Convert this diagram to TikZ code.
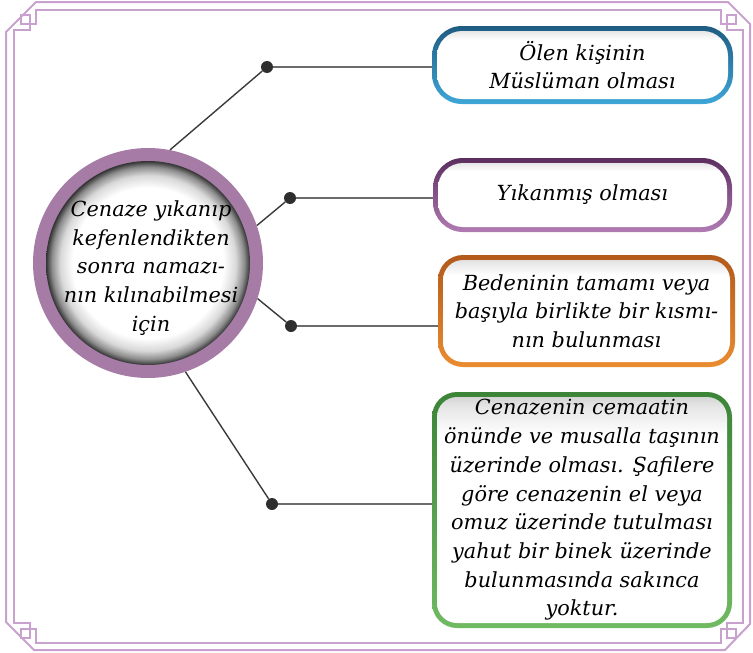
\documentclass[tikz,border=0pt]{standalone}
\usepackage{fontspec}
\setmainfont{DejaVu Serif}
\usetikzlibrary{calc}
\definecolor{framec}{HTML}{C9A1CE}
\definecolor{ringc}{HTML}{A67CA7}
\definecolor{dotc}{HTML}{2E2E2E}
\definecolor{diagc}{HTML}{3A3A3A}
\definecolor{hlinec}{HTML}{6C6C6C}
\definecolor{blueT}{HTML}{1F5C82}
\definecolor{blueB}{HTML}{3EA6D8}
\definecolor{purT}{HTML}{5C2E60}
\definecolor{purB}{HTML}{B07BB3}
\definecolor{orT}{HTML}{B25A1A}
\definecolor{orB}{HTML}{EA8C30}
\definecolor{grT}{HTML}{3C8437}
\definecolor{grB}{HTML}{70BA62}
\pgfdeclareradialshading{discshade}{\pgfpoint{0bp}{0bp}}{color(0bp)=(white); color(18.5bp)=(white); color(21.5bp)=(black!15); color(23.6bp)=(black!45); color(25bp)=(black!80); color(50bp)=(black!80)}
\pgfdeclareverticalshading{innerbox}{100bp}{color(0bp)=(white); color(25bp)=(white); color(66bp)=(white); color(72bp)=(black!10); color(75bp)=(black!20); color(100bp)=(black!20)}
\tikzset{
  txt/.style={font=\fontsize{20.8}{28.7}\selectfont\itshape, align=center},
  cbox/.style n args={3}{rectangle, rounded corners=#3, top color=#1, bottom color=#2, txt, inner sep=0pt,
    path picture={\shade[shading=innerbox, rounded corners=#3-5pt]
      ([shift={(5pt,5pt)}]path picture bounding box.south west) rectangle
      ([shift={(-5pt,-5pt)}]path picture bounding box.north east);}},
  dotn/.style={circle, fill=dotc, inner sep=0pt, minimum size=12pt},
  diag/.style={draw=diagc, line width=1.4pt},
  hline/.style={draw=hlinec, line width=1.8pt},
  framel/.style={draw=framec, line width=2pt, line join=miter}
}
\begin{document}
\begin{tikzpicture}[x=1pt,y=1pt]
\useasboundingbox (0,0) rectangle (753,-653);
% frame
\draw[framel] (36,-2) -- (728,-2) -- (750,-24) -- (750,-624) -- (725,-650) -- (34,-650) -- (6,-622) -- (6,-32) -- cycle;
\draw[framel] (36,-9.5) -- (720.5,-9.5) -- (720.5,-23.5) -- (735.5,-23.5) -- (735.5,-15) -- (727,-15) -- (727,-29.5) -- (743,-29.5)
  -- (743,-623) -- (727,-623) -- (727,-637.5) -- (735.5,-637.5) -- (735.5,-629) -- (720.5,-629) -- (720.5,-643)
  -- (36,-643) -- (36,-629) -- (21,-629) -- (21,-637.5) -- (29.5,-637.5) -- (29.5,-623) -- (13.5,-623)
  -- (13.5,-29.5) -- (29.5,-29.5) -- (29.5,-15) -- (21,-15) -- (21,-23.5) -- (36,-23.5) -- cycle;
% central circle
\node[circle, fill=ringc, minimum size=230pt, inner sep=0pt] (c) at (148,-263) {};
\shade[shading=discshade] (c.center) circle (102pt);
\node[txt] (ct) at (151,-268) {Cenaze yıkanıp\\kefenlendikten\\sonra namazı-\\nın kılınabilmesi\\için};
% boxes
\node[cbox={blueT}{blueB}{30pt}, minimum width=301pt, minimum height=78pt] (b1) at (582.5,-65) {Ölen kişinin\\Müslüman olması};
\node[cbox={purT}{purB}{30pt}, minimum width=299pt, minimum height=74pt] (b2) at (582.5,-195) {Yıkanmış olması};
\node[cbox={orT}{orB}{25pt}, minimum width=297pt, minimum height=112pt] (b3) at (586.5,-311) {Bedeninin tamamı veya\\başıyla birlikte bir kısmı-\\nın bulunması};
\node[cbox={grT}{grB}{25pt}, minimum width=300pt, minimum height=236pt] (b4) at (582,-510) {Cenazenin cemaatin\\önünde ve musalla taşının\\üzerinde olması. Şafilere\\göre cenazenin el veya\\omuz üzerinde tutulması\\yahut bir binek üzerinde\\bulunmasında sakınca\\yoktur.};
% dots
\node[dotn] (d1) at (267,-67) {};
\node[dotn] (d2) at (290,-198) {};
\node[dotn] (d3) at (291,-326) {};
\node[dotn] (d4) at (272,-504) {};
% connectors
\draw[diag] (c.79) -- (d1);
\draw[diag] (c.19) -- (d2);
\draw[diag] (c.-18.6) -- (d3);
\draw[diag] (c.-71.3) -- (d4);
\draw[hline] (d1) -- (d1 -| b1.west);
\draw[hline] (d2) -- (d2 -| b2.west);
\draw[hline] (d3) -- (d3 -| b3.west);
\draw[hline] (d4) -- (d4 -| b4.west);
\end{tikzpicture}
\end{document}
